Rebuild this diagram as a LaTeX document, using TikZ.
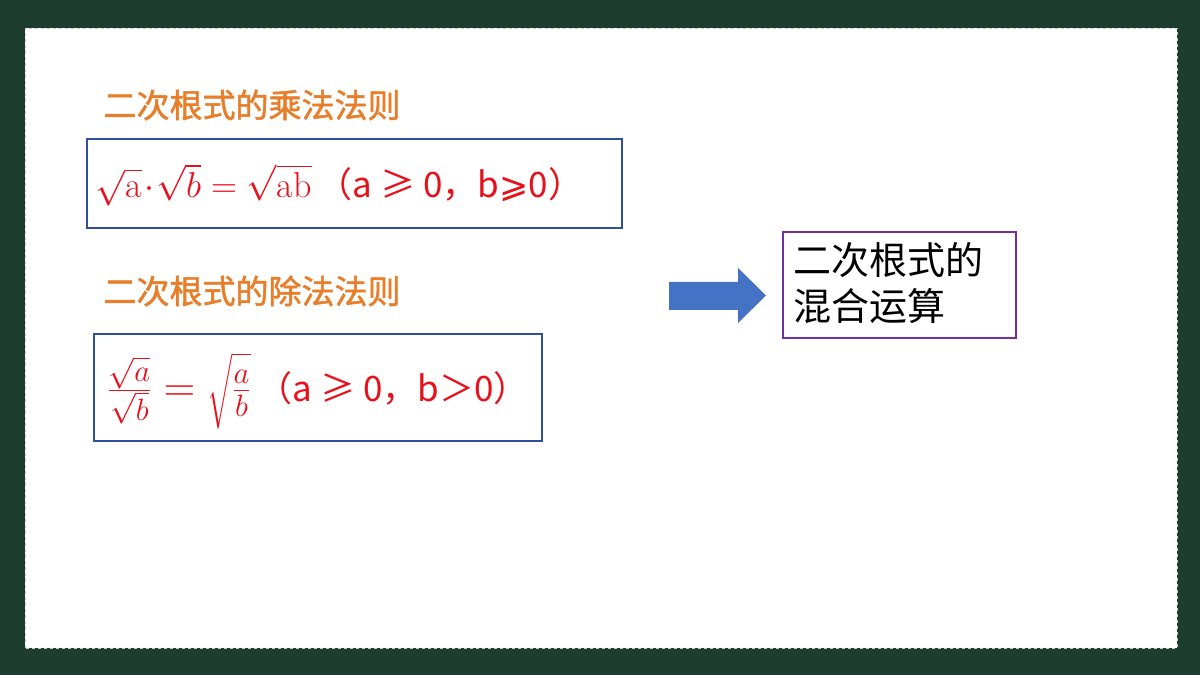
\documentclass[tikz,border=0pt]{standalone}
\usepackage{fix-cm}
\usepackage{amsmath}
\usepackage{fontspec}
\newfontfamily\cjk{Noto Sans CJK SC}
\newfontfamily\cjkb[FakeBold=1.5]{Noto Sans CJK SC}
\newfontfamily\symf{DejaVu Sans}
\definecolor{boardgreen}{HTML}{1E3D31}
\definecolor{titleorange}{HTML}{E87D2A}
\definecolor{rulered}{HTML}{E8101A}
\definecolor{boxblue}{HTML}{2F4F9A}
\definecolor{boxpurple}{HTML}{7030A0}
\definecolor{arrowblue}{HTML}{4472C4}
\tikzset{
  title/.style={anchor=west, text=titleorange, font=\fontsize{33}{36}\selectfont\cjkb},
  rulebox/.style={draw=boxblue, line width=1.5pt},
  formula/.style={anchor=west, text=rulered, font=\fontsize{36}{40}\selectfont}
}
\begin{document}
\begin{tikzpicture}[x=1pt,y=1pt]
  \useasboundingbox (0,0) rectangle (1200,675);
  \fill[boardgreen] (0,0) rectangle (1200,675);
  \fill[white] (25,27) rectangle (1177,647);
  \draw[gray!40, dashed] (25,27) rectangle (1177,647);

  % multiplication rule
  \node[title] (multitle) at (100,570) {二次根式的乘法法则};
  \draw[rulebox] (87,447) rectangle (622,536);
  \node[formula] (mulrule) at (92,490) {$\sqrt{\mathrm{a}}\!\cdot\!\sqrt{b}=\sqrt{\mathrm{ab}}$\,{\fontsize{35}{38}\selectfont\cjk（a ≥ 0，b{\symf ⩾}0）}};

  % division rule
  \node[title] (divtitle) at (100,384) {二次根式的除法法则};
  \draw[rulebox] (94,234) rectangle (542,341);
  \node[formula, font=\fontsize{44}{48}\selectfont] (divrule) at (104,284) {$\frac{\sqrt{a}}{\sqrt{b}}=\sqrt{\vphantom{\frac{A}{g}}\frac{a}{b}}$\,{\fontsize{35}{38}\selectfont\cjk（a ≥ 0，b＞0）}};

  % arrow and result
  \fill[arrowblue] (669,393) -- (738,393) -- (738,407) -- (766,379.5) -- (738,352)
    -- (738,365) -- (669,365) -- cycle;
  \draw[boxpurple, line width=1.5pt] (783,337) rectangle (1016,443);
  \node[anchor=north west, align=left, inner sep=0pt,
        font=\fontsize{38}{46}\selectfont\cjk] (result) at (793,433)
        {二次根式的\\混合运算};
\end{tikzpicture}
\end{document}
